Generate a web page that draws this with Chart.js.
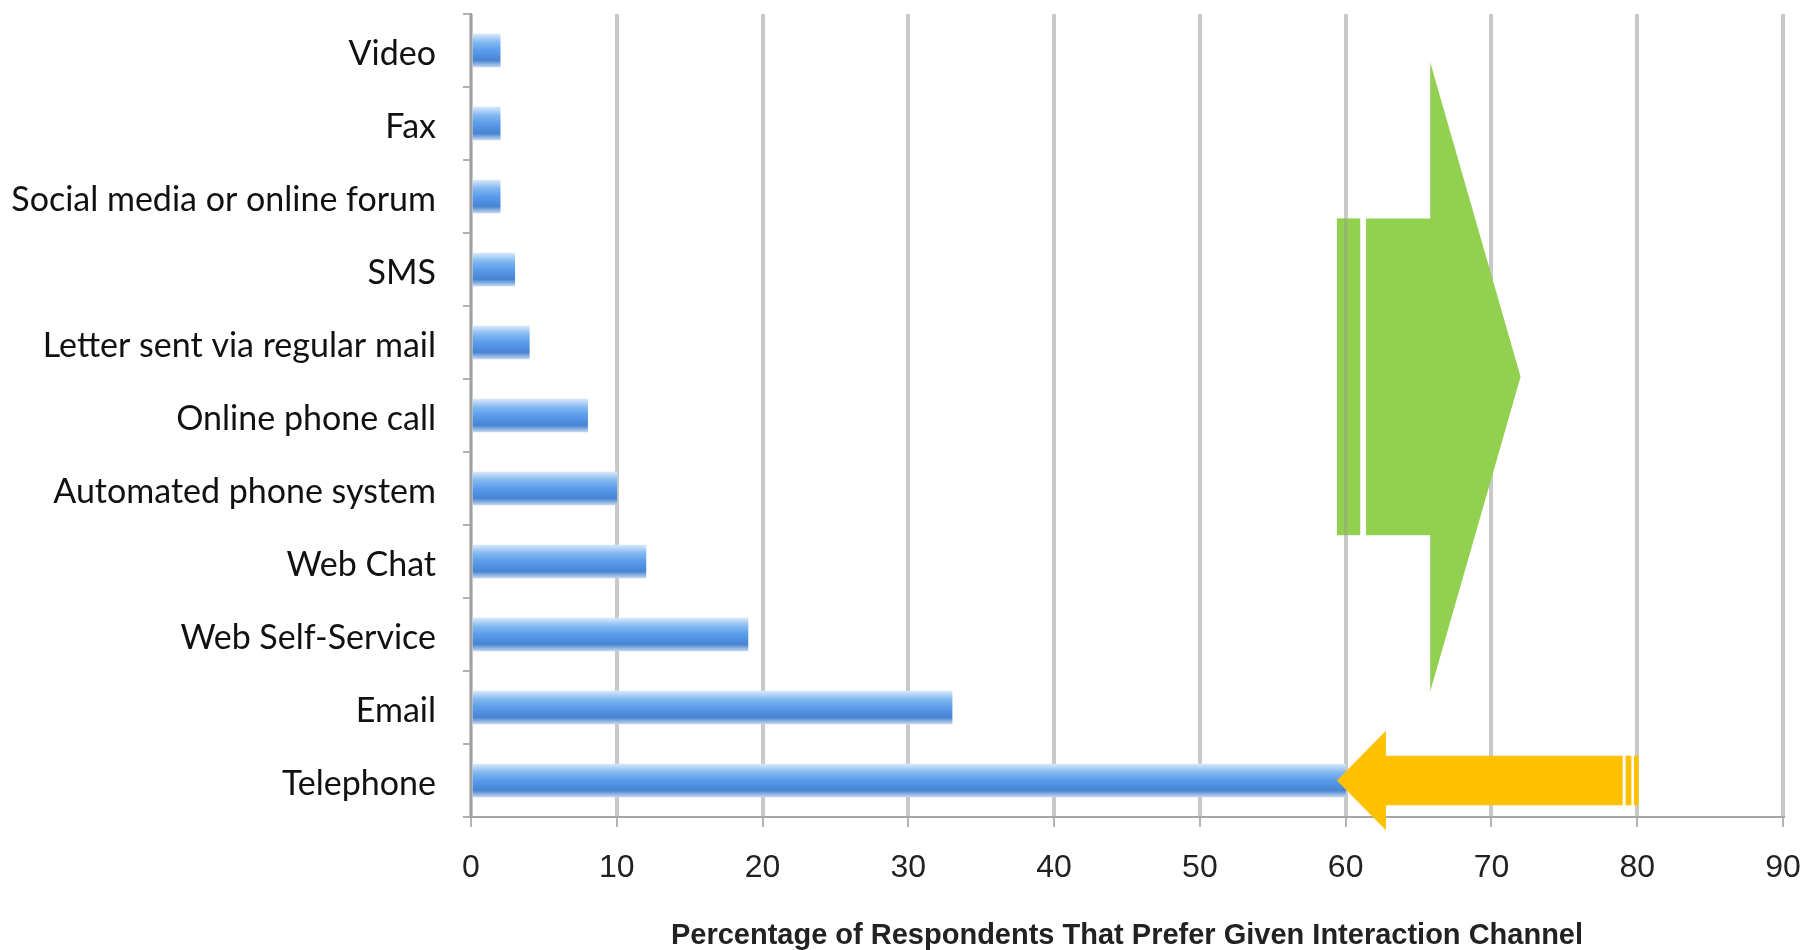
<!DOCTYPE html>
<html>
<head>
<meta charset="utf-8">
<script src="https://cdn.jsdelivr.net/npm/chart.js@4.4.1/dist/chart.umd.min.js"></script>
<style>
  html, body { margin: 0; padding: 0; background: #fff; }
  #channelChart { display: block; }
</style>
</head>
<body>
<canvas id="channelChart" width="1804" height="950"></canvas>
<script>
// Preferred interaction channel (top to bottom as shown)
const channels = [
    'Video',
    'Fax',
    'Social media or online forum',
    'SMS',
    'Letter sent via regular mail',
    'Online phone call',
    'Automated phone system',
    'Web Chat',
    'Web Self-Service',
    'Email',
    'Telephone'
];
const percentages = [2, 2, 2, 3, 4, 8, 10, 12, 19, 33, 60];
const axisMin = 0;
const axisMax = 90;
const axisStep = 10;
const axisTitle = 'Percentage of Respondents That Prefer Given Interaction Channel';

const BAR_THICKNESS = 33;

// glossy blue bar fill, built per bar in pixel space
function barFill(context) {
    const chart = context.chart;
    const yScale = chart.scales.y;
    if (!yScale || context.dataIndex === undefined) return '#5b9be0';
    const cy = yScale.getPixelForValue(context.dataIndex);
    if (!Number.isFinite(cy)) return '#5b9be0';
    const half = BAR_THICKNESS / 2;
    const g = chart.ctx.createLinearGradient(0, cy - half, 0, cy + half);
    g.addColorStop(0, '#d6e8fa');
    g.addColorStop(0.25, '#82b8f0');
    g.addColorStop(0.5, '#5a9ceb');
    g.addColorStop(0.8, '#4784d2');
    g.addColorStop(1, '#c2d6ee');
    return g;
}

// block arrows drawn on top of the bars, positioned in axis units
const arrowPlugin = {
    id: 'blockArrows',
    afterDatasetsDraw(chart) {
        const { ctx } = chart;
        const x = chart.scales.x;
        const y = chart.scales.y;
        const px = v => x.getPixelForValue(v);
        const py = v => y.getPixelForValue(v);

        ctx.save();

        // green arrow pointing right
        const gc = 4.47, gBody = 2.17, gHead = 4.31;
        ctx.fillStyle = '#92d050';
        ctx.fillRect(px(59.4), py(gc - gBody), px(61.0) - px(59.4), py(gc + gBody) - py(gc - gBody));
        ctx.beginPath();
        ctx.moveTo(px(61.4), py(gc - gBody));
        ctx.lineTo(px(65.8), py(gc - gBody));
        ctx.lineTo(px(65.8), py(gc - gHead));
        ctx.lineTo(px(72.0), py(gc));
        ctx.lineTo(px(65.8), py(gc + gHead));
        ctx.lineTo(px(65.8), py(gc + gBody));
        ctx.lineTo(px(61.4), py(gc + gBody));
        ctx.closePath();
        ctx.fill();
        // gridline showing through the thin strip
        ctx.fillStyle = 'rgba(150,150,150,0.45)';
        ctx.fillRect(px(60) - 1.5, py(gc - gBody), 3, py(gc + gBody) - py(gc - gBody));

        // orange arrow pointing left at Telephone
        const oc = 10, oBody = 0.34, oHead = 0.68;
        ctx.fillStyle = '#ffc000';
        ctx.beginPath();
        ctx.moveTo(px(59.4), py(oc));
        ctx.lineTo(px(62.76), py(oc - oHead));
        ctx.lineTo(px(62.76), py(oc - oBody));
        ctx.lineTo(px(79.0), py(oc - oBody));
        ctx.lineTo(px(79.0), py(oc + oBody));
        ctx.lineTo(px(62.76), py(oc + oBody));
        ctx.lineTo(px(62.76), py(oc + oHead));
        ctx.closePath();
        ctx.fill();
        ctx.fillRect(px(79.2), py(oc - oBody), px(79.6) - px(79.2), py(oc + oBody) - py(oc - oBody));
        ctx.fillRect(px(79.77), py(oc - oBody), px(80.1) - px(79.77), py(oc + oBody) - py(oc - oBody));

        ctx.restore();
    }
};

const ctx = document.getElementById('channelChart').getContext('2d');
new Chart(ctx, {
    type: 'bar',
    data: {
        labels: channels,
        datasets: [{
            label: 'Respondents (%)',
            data: percentages,
            backgroundColor: barFill,
            borderWidth: 0,
            barThickness: BAR_THICKNESS
        }]
    },
    options: {
        indexAxis: 'y',
        responsive: false,
        animation: false,
        devicePixelRatio: 1,
        layout: {
            padding: { top: 14, right: 21, left: 0, bottom: 0 }
        },
        scales: {
            x: {
                min: axisMin,
                max: axisMax,
                afterFit: scale => {
                    scale.height = 133;
                    scale.paddingLeft = 0;
                    scale.paddingRight = 0;
                },
                ticks: {
                    stepSize: axisStep,
                    color: '#222',
                    padding: 22,
                    font: { family: '"Liberation Sans", Arial, sans-serif', size: 32 }
                },
                grid: {
                    color: '#c9c9c9',
                    lineWidth: 4,
                    tickLength: 10,
                    tickColor: '#b5b5b5',
                    tickWidth: 2
                },
                border: { display: true, color: '#a6a6a6', width: 2 },
                title: {
                    display: true,
                    text: axisTitle,
                    color: '#222',
                    padding: { top: 0, bottom: -3 },
                    font: { family: '"Liberation Sans", Arial, sans-serif', size: 29, weight: 'bold' }
                }
            },
            y: {
                afterFit: scale => {
                    scale.width = 471;
                    scale.paddingTop = 0;
                    scale.paddingBottom = 0;
                },
                ticks: {
                    color: '#111',
                    padding: 27,
                    labelOffset: 4,
                    autoSkip: false,
                    font: { family: 'Lato, "Open Sans", sans-serif', size: 34 }
                },
                grid: {
                    drawOnChartArea: false,
                    offset: true,
                    tickLength: 8,
                    color: '#b0b0b0',
                    lineWidth: 2
                },
                border: { display: true, color: '#a0a0a0', width: 2 }
            }
        },
        plugins: {
            legend: { display: false },
            tooltip: { enabled: false }
        }
    },
    plugins: [arrowPlugin]
});
</script>
</body>
</html>
